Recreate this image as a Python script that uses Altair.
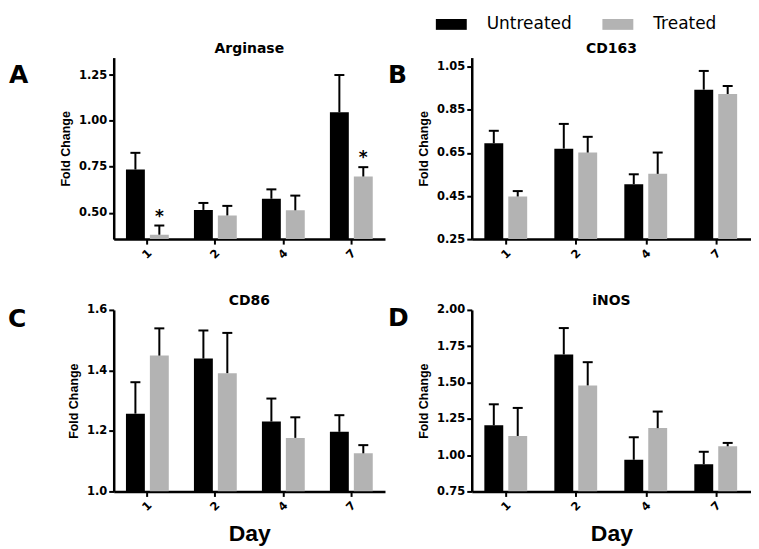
import altair as alt
import pandas as pd

days = ["1", "2", "4", "7"]
groups = ["Untreated", "Treated"]
colors = ["#000000", "#b3b3b3"]

arg_untreated = [0.735, 0.515, 0.576, 1.047]
arg_untreated_sem = [0.091, 0.038, 0.051, 0.203]
arg_treated = [0.380, 0.485, 0.513, 0.697]
arg_treated_sem = [0.050, 0.052, 0.080, 0.051]
arg_sig_treated = [True, False, False, True]

cd163_untreated = [0.695, 0.670, 0.505, 0.944]
cd163_untreated_sem = [0.058, 0.115, 0.046, 0.087]
cd163_treated = [0.448, 0.652, 0.553, 0.924]
cd163_treated_sem = [0.025, 0.073, 0.099, 0.037]

cd86_untreated = [1.257, 1.439, 1.231, 1.197]
cd86_untreated_sem = [0.104, 0.093, 0.076, 0.055]
cd86_treated = [1.449, 1.391, 1.177, 1.126]
cd86_treated_sem = [0.090, 0.133, 0.068, 0.027]

inos_untreated = [1.205, 1.693, 0.968, 0.937]
inos_untreated_sem = [0.145, 0.182, 0.155, 0.086]
inos_treated = [1.132, 1.480, 1.186, 1.061]
inos_treated_sem = [0.193, 0.160, 0.114, 0.023]


def make_df(u, us, t, ts, sig_t=None):
    rows = []
    for i, d in enumerate(days):
        rows.append(dict(Day=d, Group="Untreated", Mean=u[i], Upper=u[i] + us[i], Sig=False))
        rows.append(dict(Day=d, Group="Treated", Mean=t[i], Upper=t[i] + ts[i],
                         Sig=bool(sig_t[i]) if sig_t else False))
    return pd.DataFrame(rows)


def panel(df, title, letter, letter_x, letter_y, domain, ticks, fmt, width, show_day, legend=None):
    xax = alt.Axis(
        title="Day" if show_day else None,
        labelAngle=315, labelAlign="center", labelBaseline="middle", labelPadding=10,
        titleFont="Liberation Sans", titleFontSize=23, titleFontWeight="bold",
        titlePadding=9, titleColor="black",
    )
    x = alt.X("Day:N", sort=days, scale=alt.Scale(paddingInner=0.37, paddingOuter=0.18), axis=xax)
    xo = alt.XOffset("Group:N", sort=groups, scale=alt.Scale(paddingInner=0.21, paddingOuter=0))
    yax = alt.Axis(title="Fold Change", values=ticks, format=fmt, titlePadding=6,
                   titleFont="Liberation Sans", titleFontSize=12.5, titleFontWeight="bold",
                   titleColor="black", labelPadding=2)
    ysc = alt.Scale(domain=domain, zero=False, nice=False)
    base = alt.Chart(df)
    bars = base.mark_bar(clip=True).encode(
        x=x, xOffset=xo,
        y=alt.Y("Mean:Q", scale=ysc, axis=yax),
        y2=alt.datum(domain[0]),
        color=alt.Color("Group:N", scale=alt.Scale(domain=groups, range=colors), legend=legend),
    )
    err = base.mark_rule(color="black", strokeWidth=2).encode(
        x=x, xOffset=xo,
        y=alt.Y("Mean:Q", scale=ysc, axis=yax),
        y2="Upper:Q",
    )
    cap = base.mark_tick(color="black", thickness=2, size=10, opacity=1).encode(
        x=x, xOffset=xo,
        y=alt.Y("Upper:Q", scale=ysc, axis=yax),
    )
    layers = [bars, err, cap]
    if df["Sig"].any():
        star = base.transform_filter("datum.Sig").mark_text(
            text="*", font="DejaVu Sans", fontWeight="bold", fontSize=17,
            baseline="alphabetic", dy=-4, color="black",
        ).encode(x=x, xOffset=xo, y=alt.Y("Upper:Q", scale=ysc, axis=yax))
        layers.append(star)
    lab = alt.Chart(pd.DataFrame({"t": [letter]})).mark_text(
        font="DejaVu Sans", fontWeight="bold", fontSize=25, align="left",
        baseline="alphabetic", color="black",
    ).encode(text="t:N", x=alt.value(letter_x), y=alt.value(letter_y))
    ttl = alt.Chart(pd.DataFrame({"t": [title]})).mark_text(
        font="DejaVu Sans", fontWeight="bold", fontSize=14, align="center",
        baseline="alphabetic", color="black",
    ).encode(text="t:N", x=alt.value(width / 2), y=alt.value(-5))
    layers += [lab, ttl]
    return alt.layer(*layers).properties(width=width, height=182)


legend_b = alt.Legend(
    title=None, orient="none", legendX=-36, legendY=-49, direction="horizontal",
    symbolType="M-1,-0.35H1V0.35H-1Z", symbolSize=961, symbolStrokeWidth=0,
    labelFont="DejaVu Sans", labelFontSize=17, labelColor="black", labelFontWeight="normal",
    labelOffset=20, columnPadding=30, padding=0,
)

pa = panel(make_df(arg_untreated, arg_untreated_sem, arg_treated, arg_treated_sem, arg_sig_treated),
           "Arginase", "A", -105, 25, [0.356, 1.345], [0.5, 0.75, 1.0, 1.25], ".2f", 272, False)
pb = panel(make_df(cd163_untreated, cd163_untreated_sem, cd163_treated, cd163_treated_sem),
           "CD163", "B", -84, 25, [0.25, 1.093], [0.25, 0.45, 0.65, 0.85, 1.05], ".2f", 280, False,
           legend=legend_b)
pc = panel(make_df(cd86_untreated, cd86_untreated_sem, cd86_treated, cd86_treated_sem),
           "CD86", "C", -106, 17, [1.0, 1.6], [1.0, 1.2, 1.4, 1.6], ".1f", 272, True)
pd_ = panel(make_df(inos_untreated, inos_untreated_sem, inos_treated, inos_treated_sem),
            "iNOS", "D", -84, 16, [0.75, 2.0], [0.75, 1.0, 1.25, 1.5, 1.75, 2.0], ".2f", 280, True)

chart = alt.concat(
    pa, pb, pc, pd_, columns=2, spacing={"row": 71, "column": 87}, bounds="flush"
).resolve_scale(color="independent").properties(padding=0).configure(
    font="DejaVu Sans"
).configure_view(stroke=None).configure_axis(
    domainColor="black", domainWidth=2.5, tickColor="black", tickWidth=2, tickSize=5,
    labelFont="DejaVu Sans", labelFontWeight="bold", labelFontSize=11.5, labelColor="black",
    grid=False,
)

chart.save("out.html", embed_options={"renderer": "svg", "actions": False})
